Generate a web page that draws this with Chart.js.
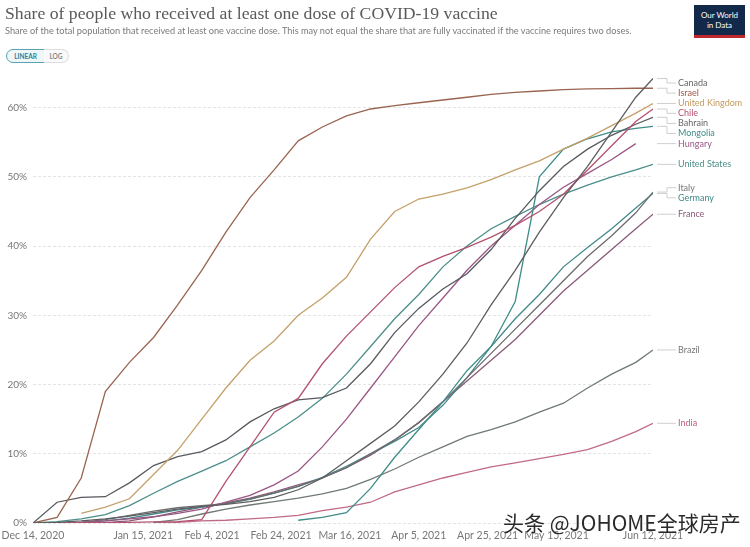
<!DOCTYPE html>
<html><head><meta charset="utf-8">
<script src="https://cdn.jsdelivr.net/npm/chart.js@4.4.1/dist/chart.umd.min.js"></script>
<style>
html,body{margin:0;padding:0;background:#fff;width:750px;height:547px;overflow:hidden;position:relative;font-family:Lato,"Noto Sans",sans-serif}
#title{position:absolute;left:5px;top:3px;font-family:"Liberation Serif","DejaVu Serif",serif;font-size:17.7px;color:#5a5a5a;white-space:nowrap}
#sub{position:absolute;left:5px;top:25px;font-size:9.2px;color:#7a7a7a;white-space:nowrap}
.tg{position:absolute;top:49px;height:14px;line-height:14px;font-size:6.5px;font-weight:bold;text-align:center;box-sizing:border-box}
#lin{left:6px;width:39px;border:1px solid #5aa3b5;border-radius:8px 0 0 8px;background:#eef6f8;color:#2f7f93}
#log{left:44px;width:25px;border:1px solid #ddd;border-left:none;border-radius:0 8px 8px 0;color:#888;background:#fafafa}
#logo{position:absolute;left:694px;top:5px;width:51px;height:33px;background:#12294a;color:#fff;font-size:8px;line-height:10px;text-align:center;box-sizing:border-box;padding-top:5px;border-bottom:3px solid #c0282d}
#wm{position:absolute;left:503px;top:507px;font-family:"Noto Sans CJK SC",sans-serif;font-size:21px;color:#2a2a2a;white-space:nowrap;text-shadow:0 0 2px #fff}
#wrap{position:absolute;left:0;top:0;width:750px;height:547px}
</style></head>
<body>
<div id="wrap"><canvas id="c"></canvas></div>
<div id="title">Share of people who received at least one dose of COVID-19 vaccine</div>
<div id="sub">Share of the total population that received at least one vaccine dose. This may not equal the share that are fully vaccinated if the vaccine requires two doses.</div>
<div class="tg" id="lin">LINEAR</div><div class="tg" id="log">LOG</div>
<div id="logo">Our World<br>in Data</div>
<div id="wm">头条 @JOHOME全球房产</div>
<script>
const dates = ['2020-12-14','2020-12-21','2020-12-28','2021-01-04','2021-01-11','2021-01-18','2021-01-25','2021-02-01','2021-02-08','2021-02-15','2021-02-22','2021-03-01','2021-03-08','2021-03-15','2021-03-22','2021-03-29','2021-04-05','2021-04-12','2021-04-19','2021-04-26','2021-05-03','2021-05-10','2021-05-17','2021-05-24','2021-05-31','2021-06-07','2021-06-12'];
const tickDates = ['2020-12-14','2021-01-15','2021-02-04','2021-02-24','2021-03-16','2021-04-05','2021-04-25','2021-05-15','2021-06-12'];
const yTicks = [0,10,20,30,40,50,60];

const canada   = [0,0.1,0.3,0.6,1.0,1.5,2.0,2.4,2.7,3.1,3.7,4.8,6.5,9.0,11.5,14,17.5,21.5,26,31.5,36.5,42,47,51.5,56.5,61.5,64.2];
const israel   = [0,0.8,6.5,19,23.2,26.8,31.5,36.5,42,47,51,55.2,57.2,58.8,59.8,60.3,60.7,61.1,61.5,61.9,62.2,62.4,62.6,62.7,62.75,62.8,62.8];
const uk       = [null,null,1.4,2.3,3.5,7,10.5,15,19.5,23.5,26.3,30,32.5,35.5,41,45,46.8,47.5,48.4,49.6,51,52.3,54,55.6,57.4,59.2,60.6];
const chile    = [null,0.02,0.05,0.05,0.1,0.15,0.2,0.5,6,11,16,18,23,27,30.5,34,37,38.5,39.8,41.3,43,45,47.5,51,54.5,58,59.8];
const bahrain  = [0,3.0,3.7,3.8,5.8,8.3,9.6,10.3,12,14.6,16.5,17.8,18.1,19.5,23,27.5,31,33.8,36,39.5,44,48,51.5,54,56,57.6,58.6];
const mongolia = [null,null,null,null,null,null,null,null,null,null,null,0.4,0.8,1.5,5,9.5,13.5,17.5,22,25.5,32,50,54,55.5,56.5,57,57.3];
const hungary  = [null,null,0.1,0.3,0.6,0.9,1.4,2.0,3.0,4.0,5.5,7.5,11,15,19.5,24,28.5,32.5,36.5,40,43,46,48.5,50.5,52.5,54.8,null];
const us       = [0,0.2,0.6,1.2,2.5,4.3,6.0,7.5,9.0,11,13,15.3,18,21.5,25.5,29.5,33,37,40,42.5,44.3,46,47.5,48.8,50,51,51.8];
const italy    = [null,0.01,0.1,0.5,1.1,1.7,2.2,2.5,2.8,3.5,4.3,5.3,6.5,8,10,12,14.5,17.5,21,24.5,28,31.5,35,38.5,41.5,44.8,47.8];
const germany  = [null,0.01,0.1,0.3,0.7,1.3,1.9,2.3,2.8,3.4,4.3,5.3,6.6,8.2,10,11.8,13.8,17,21,25.5,29.5,33,37,39.8,42.5,45.5,47.6];
const france   = [null,null,0.0,0.05,0.3,0.9,1.6,2.3,2.9,3.6,4.5,5.5,6.5,8,9.8,12,14.5,17.5,20.5,23.5,26.5,30,33.5,36.5,39.5,42.5,44.6];
const brazil   = [null,null,null,null,null,0.1,0.5,1.3,2.0,2.6,3.1,3.6,4.2,5.0,6.3,7.8,9.5,11,12.5,13.5,14.6,16,17.3,19.5,21.5,23.2,25];
const india    = [null,null,null,null,null,0.01,0.1,0.3,0.4,0.6,0.8,1.1,1.8,2.3,3.0,4.5,5.5,6.5,7.3,8.1,8.7,9.3,9.9,10.6,11.8,13.2,14.4];

const countries = ['Canada','Israel','United Kingdom','Chile','Bahrain','Mongolia','Hungary','United States','Italy','Germany','France','Brazil','India'];
const seriesList = [canada,israel,uk,chile,bahrain,mongolia,hungary,us,italy,germany,france,brazil,india];
const lineColors = ['#5d5d60','#9a6450','#c4a06a','#b3526f','#56595e','#3f8c89','#9a5684','#4b8f88','#6c6c6e','#43898a','#8a5a78','#6f7a73','#c06a86'];
const labelColors = ['#666','#a0574a','#c49a5c','#b5506e','#666','#3f8c89','#9a5684','#4b8f88','#777','#43898a','#8a5a78','#777','#c0587a'];

const MS = ['Jan','Feb','Mar','Apr','May','Jun','Jul','Aug','Sep','Oct','Nov','Dec'];
const t0 = Date.parse(dates[0]);
const toDay = d => Math.round((Date.parse(d) - t0) / 86400000);
const fmt = d => { const [y,m,dd] = d.split('-'); return MS[+m-1] + ' ' + (+dd) + ', ' + y; };
const tickDays = tickDates.map(toDay);
const tickLabel = {}; tickDates.forEach(d => tickLabel[toDay(d)] = fmt(d));

const datasets = countries.map((name,i) => ({
  label: name,
  data: seriesList[i].map((v,k) => ({x: toDay(dates[k]), y: v})),
  borderColor: lineColors[i],
  labelColor: labelColors[i],
  borderWidth: 1.3,
  pointRadius: 0,
  tension: 0,
  spanGaps: false
}));

const endLabels = {
  id: 'endLabels',
  afterDatasetsDraw(chart) {
    const ctx = chart.ctx, ys = chart.scales.y, ca = chart.chartArea;
    const items = [];
    chart.data.datasets.forEach(ds => {
      let j = ds.data.length - 1;
      while (j >= 0 && ds.data[j].y == null) j--;
      items.push({name: ds.label, color: ds.labelColor, y: ys.getPixelForValue(ds.data[j].y)});
    });
    items.sort((a,b) => a.y - b.y);
    const sp = 10.1, mergeGap = 15.8;
    const center = its => {
      const mean = its.reduce((s,i) => s + i.y, 0) / its.length;
      const anchored = its[its.length-1].y - (its.length-1)/2*sp;
      return Math.max(mean, anchored);
    };
    let groups = items.map(it => ({items: [it], c: it.y}));
    let changed = true;
    while (changed) {
      changed = false;
      for (let k = 0; k < groups.length - 1; k++) {
        const a = groups[k], b = groups[k+1];
        const aB = a.c + (a.items.length-1)/2*sp, bT = b.c - (b.items.length-1)/2*sp;
        if (bT - aB < mergeGap) {
          const its = a.items.concat(b.items);
          groups.splice(k, 2, {items: its, c: center(its)});
          changed = true; break;
        }
      }
    }
    ctx.save();
    ctx.font = '9px Lato, "Noto Sans", sans-serif';
    ctx.textBaseline = 'middle';
    ctx.lineWidth = 1;
    const x0 = ca.right + 4, xm = ca.right + 14, x1 = ca.right + 23, xt = ca.right + 25;
    groups.forEach(g => {
      g.items.forEach((it,k) => {
        const ly = g.c - (g.items.length-1)/2*sp + k*sp;
        ctx.strokeStyle = '#cfcfcf';
        ctx.beginPath();
        if (Math.abs(ly - it.y) < 0.6) { ctx.moveTo(x0, it.y); ctx.lineTo(x1, it.y); }
        else { ctx.moveTo(x0, it.y); ctx.lineTo(xm, it.y); ctx.lineTo(xm, ly); ctx.lineTo(x1, ly); }
        ctx.stroke();
        ctx.fillStyle = it.color;
        ctx.fillText(it.name, xt, ly);
      });
    });
    ctx.restore();
  }
};

new Chart(document.getElementById('c'), {
  type: 'line',
  data: { datasets },
  options: {
    responsive: true, maintainAspectRatio: false, animation: false,
    layout: { padding: { top: 73, right: 97, left: 0, bottom: 0 } },
    plugins: { legend: { display: false }, tooltip: { enabled: false } },
    scales: {
      x: {
        type: 'linear', min: 0, max: tickDays[tickDays.length-1],
        afterBuildTicks: s => { s.ticks = tickDays.map(v => ({value: v})); },
        afterFit: s => { s.height = 24; s.paddingLeft = 0; s.paddingRight = 0; },
        grid: { display: false, drawTicks: false },
        border: { display: false },
        ticks: { autoSkip: false, maxRotation: 0, padding: 6, color: '#777', font: { family: 'Lato', size: 10.5 }, callback: v => tickLabel[v] || '' }
      },
      y: {
        min: 0, max: 65,
        afterBuildTicks: s => { s.ticks = yTicks.map(v => ({value: v})); },
        afterFit: s => { s.width = 33; },
        grid: { color: '#e4e4e4', drawTicks: false, lineWidth: 1 },
        border: { display: false, dash: [3,2] },
        ticks: { padding: 6, color: '#777', font: { family: 'Lato', size: 10 }, callback: v => v + '%' }
      }
    }
  },
  plugins: [endLabels]
});
</script>
</body></html>
